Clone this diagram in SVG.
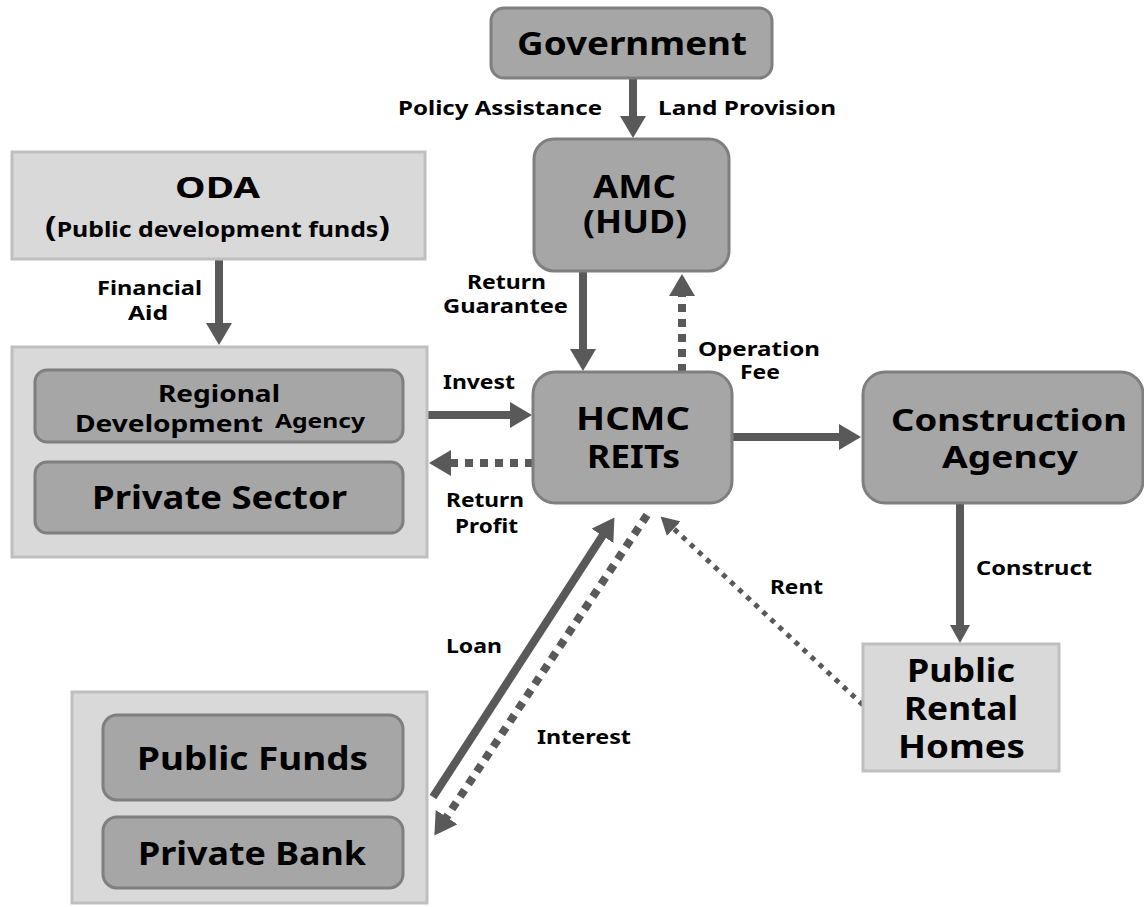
<svg xmlns="http://www.w3.org/2000/svg" width="1144" height="907" viewBox="0 0 1144 907">
  <style>
    .dark { fill: #a6a6a6; stroke: #7f7f7f; stroke-width: 3; }
    .light { fill: #d9d9d9; stroke: #bfbfbf; stroke-width: 3; }
    text { font-family: "Noto Sans", "Liberation Sans", sans-serif; font-weight: bold; fill: #000; }
    .c { text-anchor: middle; }
    .s { text-anchor: start; }
    .big { font-size: 32px; }
    .lbl { font-size: 20px; }
    .solid { stroke: #595959; stroke-width: 8; fill: none; }
    .dash { stroke: #595959; stroke-width: 8; fill: none; stroke-dasharray: 8 7; }
    .dot { stroke: #595959; stroke-width: 5; fill: none; stroke-dasharray: 5 6; }
  </style>
  <defs>
    <marker id="head" markerUnits="userSpaceOnUse" markerWidth="22" markerHeight="26" viewBox="0 0 22 26" refX="1" refY="13" orient="auto">
      <path d="M0,0 L22,13 L0,26 z" fill="#595959"/>
    </marker>
    <marker id="headSmall" markerUnits="userSpaceOnUse" markerWidth="18" markerHeight="20" viewBox="0 0 18 20" refX="1" refY="10" orient="auto">
      <path d="M0,0 L18,10 L0,20 z" fill="#595959"/>
    </marker>
  </defs>

  <!-- connectors and their labels -->
  <g id="connectors">
    <line class="solid" x1="633" y1="78" x2="633" y2="117" marker-end="url(#head)"/>
    <line class="solid" x1="219" y1="260" x2="219" y2="324" marker-end="url(#head)"/>
    <line class="solid" x1="583" y1="272" x2="583" y2="350" marker-end="url(#head)"/>
    <line class="dash" x1="682" y1="372" x2="682" y2="295" marker-end="url(#head)"/>
    <line class="solid" x1="427" y1="415" x2="511" y2="415" marker-end="url(#head)"/>
    <line class="dash" x1="533" y1="463" x2="450" y2="463" marker-end="url(#head)"/>
    <line class="solid" x1="732" y1="437" x2="840" y2="437" marker-end="url(#head)"/>
    <line class="solid" x1="960" y1="503" x2="960" y2="626" stroke-width="6" marker-end="url(#headSmall)"/>
    <line class="dot" x1="863" y1="705" x2="673" y2="528" marker-end="url(#headSmall)"/>
    <line class="solid" x1="433" y1="797" x2="603" y2="535" marker-end="url(#head)"/>
    <line class="dash" x1="647" y1="515" x2="446" y2="818" marker-end="url(#head)"/>

    <text class="lbl s" x="398" y="115" textLength="204" lengthAdjust="spacingAndGlyphs">Policy Assistance</text>
    <text class="lbl s" x="658" y="115" textLength="178" lengthAdjust="spacingAndGlyphs">Land Provision</text>
    <text class="lbl c" x="149.5" y="295" textLength="105" lengthAdjust="spacingAndGlyphs">Financial</text>
    <text class="lbl c" x="148" y="320" textLength="40" lengthAdjust="spacingAndGlyphs">Aid</text>
    <text class="lbl c" x="506.5" y="289" textLength="79" lengthAdjust="spacingAndGlyphs">Return</text>
    <text class="lbl c" x="505.5" y="313" textLength="125" lengthAdjust="spacingAndGlyphs">Guarantee</text>
    <text class="lbl s" x="698" y="356" textLength="122" lengthAdjust="spacingAndGlyphs">Operation</text>
    <text class="lbl s" x="740" y="379" textLength="40" lengthAdjust="spacingAndGlyphs">Fee</text>
    <text class="lbl s" x="443" y="389" textLength="72" lengthAdjust="spacingAndGlyphs">Invest</text>
    <text class="lbl c" x="485" y="507" textLength="78" lengthAdjust="spacingAndGlyphs">Return</text>
    <text class="lbl c" x="486.5" y="533" textLength="63" lengthAdjust="spacingAndGlyphs">Profit</text>
    <text class="lbl s" x="976" y="575" textLength="116" lengthAdjust="spacingAndGlyphs">Construct</text>
    <text class="lbl s" x="770" y="594" textLength="53" lengthAdjust="spacingAndGlyphs">Rent</text>
    <text class="lbl s" x="446" y="653" textLength="56" lengthAdjust="spacingAndGlyphs">Loan</text>
    <text class="lbl s" x="537" y="744" textLength="94" lengthAdjust="spacingAndGlyphs">Interest</text>
  </g>

  <g id="government">
    <rect class="dark" x="491" y="8" width="281" height="70" rx="13"/>
    <text class="big c" x="632" y="55" textLength="230" lengthAdjust="spacingAndGlyphs">Government</text>
  </g>

  <g id="amc">
    <rect class="dark" x="534" y="139" width="195" height="132" rx="20"/>
    <text class="big c" x="634.5" y="198" textLength="83" lengthAdjust="spacingAndGlyphs">AMC</text>
    <text class="big c" x="635" y="233" textLength="104" lengthAdjust="spacingAndGlyphs">(HUD)</text>
  </g>

  <g id="oda">
    <rect class="light" x="12" y="152" width="413" height="107"/>
    <text class="c" x="217.5" y="198" font-size="28" textLength="85" lengthAdjust="spacingAndGlyphs">ODA</text>
    <text class="c" x="217.5" y="237" font-size="21" textLength="345" lengthAdjust="spacingAndGlyphs"><tspan font-size="29">(</tspan>Public development funds<tspan font-size="29">)</tspan></text>
  </g>

  <g id="investors">
    <rect class="light" x="12" y="347" width="415" height="210"/>
    <g id="regional-development-agency">
      <rect class="dark" x="35" y="370" width="368" height="72" rx="12"/>
      <text class="c" x="219" y="402" font-size="23" textLength="122" lengthAdjust="spacingAndGlyphs">Regional</text>
      <text class="s" x="75" y="432" font-size="23" textLength="188" lengthAdjust="spacingAndGlyphs">Development</text>
      <text class="s" x="275" y="428" font-size="20" textLength="90" lengthAdjust="spacingAndGlyphs">Agency</text>
    </g>
    <g id="private-sector">
      <rect class="dark" x="35" y="462" width="368" height="71" rx="12"/>
      <text class="big c" x="219.5" y="509" textLength="255" lengthAdjust="spacingAndGlyphs">Private Sector</text>
    </g>
  </g>

  <g id="hcmc-reits">
    <rect class="dark" x="533" y="372" width="199" height="131" rx="22"/>
    <text class="big c" x="633" y="430" textLength="114" lengthAdjust="spacingAndGlyphs">HCMC</text>
    <text class="big c" x="633.5" y="468" textLength="93" lengthAdjust="spacingAndGlyphs">REITs</text>
  </g>

  <g id="construction-agency">
    <rect class="dark" x="863" y="372" width="280" height="131" rx="22"/>
    <text class="c" x="1009" y="431" font-size="31" textLength="236" lengthAdjust="spacingAndGlyphs">Construction</text>
    <text class="c" x="1010" y="468" font-size="31" textLength="136" lengthAdjust="spacingAndGlyphs">Agency</text>
  </g>

  <g id="public-rental-homes">
    <rect class="light" x="863" y="644" width="196" height="127"/>
    <text class="big c" x="961" y="682" textLength="108" lengthAdjust="spacingAndGlyphs">Public</text>
    <text class="big c" x="961" y="720" textLength="114" lengthAdjust="spacingAndGlyphs">Rental</text>
    <text class="big c" x="961.5" y="758" textLength="127" lengthAdjust="spacingAndGlyphs">Homes</text>
  </g>

  <g id="lenders">
    <rect class="light" x="72" y="692" width="355" height="211"/>
    <g id="public-funds">
      <rect class="dark" x="103" y="715" width="300" height="85" rx="14"/>
      <text class="big c" x="252.5" y="770" textLength="231" lengthAdjust="spacingAndGlyphs">Public Funds</text>
    </g>
    <g id="private-bank">
      <rect class="dark" x="103" y="817" width="300" height="71" rx="14"/>
      <text class="big c" x="252" y="865" textLength="228" lengthAdjust="spacingAndGlyphs">Private Bank</text>
    </g>
  </g>
</svg>
